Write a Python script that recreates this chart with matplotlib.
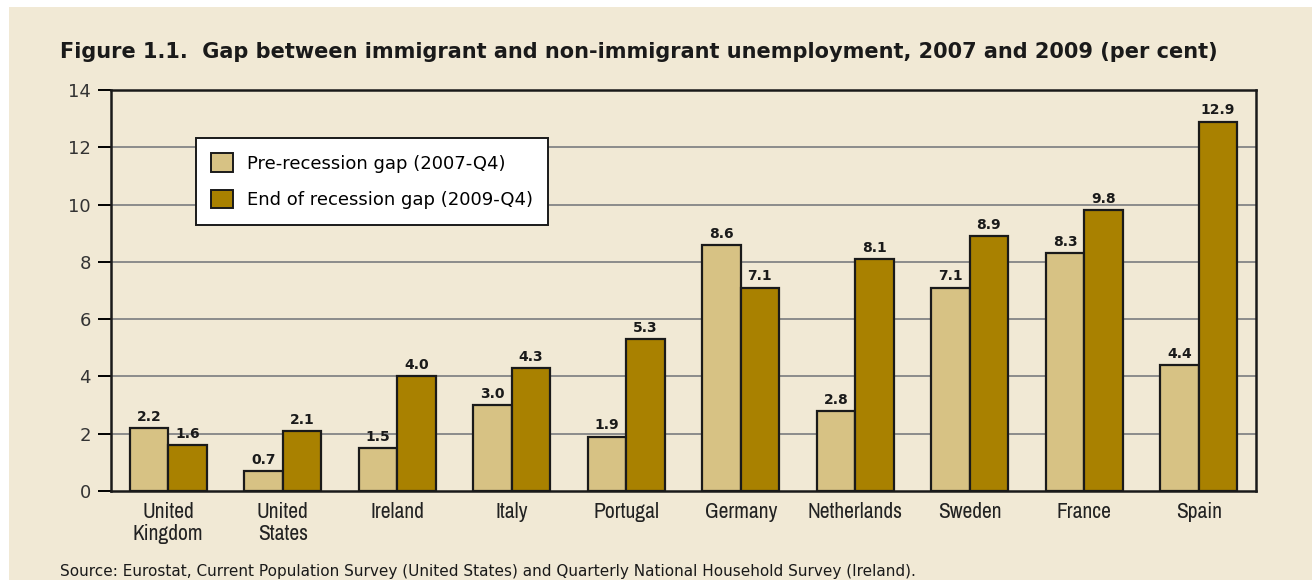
import matplotlib
matplotlib.use("Agg")
import matplotlib.pyplot as plt
from matplotlib.patches import Rectangle, Patch
import numpy as np

countries = ["United\nKingdom", "United\nStates", "Ireland", "Italy", "Portugal",
             "Germany", "Netherlands", "Sweden", "France", "Spain"]
gap_2007 = [2.2, 0.7, 1.5, 3.0, 1.9, 8.6, 2.8, 7.1, 8.3, 4.4]
gap_2009 = [1.6, 2.1, 4.0, 4.3, 5.3, 7.1, 8.1, 8.9, 9.8, 12.9]
series_labels = ["Pre-recession gap (2007-Q4)", "End of recession gap (2009-Q4)"]
y_ticks = [0, 2, 4, 6, 8, 10, 12, 14]

BG = "#f1e9d5"
C_PRE = "#d7c284"
C_END = "#a98100"
INK = "#1a1a1a"
NARROW = ["Archivo Narrow", "Liberation Sans Narrow", "DejaVu Sans"]
W, H = 1312, 580

fig = plt.figure(figsize=(W / 100, H / 100), dpi=100, facecolor="white")
fig.patches.append(Rectangle((9 / W, 0), 1 - 9 / W, 1 - 7 / H, transform=fig.transFigure,
                             facecolor=BG, edgecolor="none", zorder=-10))

ax = fig.add_axes([111 / W, 1 - 491 / H, (1256 - 111) / W, (491 - 90) / H])
ax.set_facecolor(BG)

x = np.arange(len(countries))
bw = 0.335
b1 = ax.bar(x - bw / 2, gap_2007, bw, color=C_PRE, edgecolor=INK, linewidth=1.6,
            zorder=3, label=series_labels[0])
b2 = ax.bar(x + bw / 2, gap_2009, bw, color=C_END, edgecolor=INK, linewidth=1.6,
            zorder=3, label=series_labels[1])

for bars, vals in ((b1, gap_2007), (b2, gap_2009)):
    for rect, v in zip(bars, vals):
        ax.annotate(f"{v:.1f}", (rect.get_x() + rect.get_width() / 2, v),
                    xytext=(0, 3), textcoords="offset points", ha="center", va="bottom",
                    fontsize=10, fontweight="bold", color=INK, zorder=4)

ax.set_xlim(-0.5, len(countries) - 0.5)
ax.set_ylim(0, 14)
ax.set_yticks(y_ticks)
ax.set_xticks(x)
ax.set_xticklabels(countries, fontsize=15.5, family=NARROW, fontweight="medium",
                   color="#222222", linespacing=1.1)
ax.tick_params(axis="x", length=0, pad=8)
ax.tick_params(axis="y", length=9.5, width=1.4, pad=5, labelsize=13, labelcolor="#333333")

for v in y_ticks[1:-1]:
    ax.axhline(v, color="#8c8c8c", linewidth=1.4, zorder=1)

for s in ax.spines.values():
    s.set_linewidth(1.8)
    s.set_color(INK)

leg = ax.legend(handles=[Patch(facecolor=C_PRE, edgecolor=INK, linewidth=1.4),
                         Patch(facecolor=C_END, edgecolor=INK, linewidth=1.4)],
                labels=series_labels, loc="upper left",
                bbox_to_anchor=((196 - 111) / (1256 - 111), 1 - (138 - 90) / (491 - 90)),
                fontsize=13, frameon=True, fancybox=False, framealpha=1,
                edgecolor=INK, handlelength=1.2, handleheight=1.2,
                handletextpad=0.75, labelspacing=0.95, borderpad=0.85, borderaxespad=0)
leg.get_frame().set_linewidth(1.4)
leg.set_zorder(5)

fig.text(60 / W, 1 - 52 / H,
         "Figure 1.1.  Gap between immigrant and non-immigrant unemployment, 2007 and 2009 (per cent)",
         fontsize=15, fontweight="bold", color=INK, va="center", ha="left")
fig.text(60 / W, 1 - 564 / H,
         "Source: Eurostat, Current Population Survey (United States) and Quarterly National Household Survey (Ireland).",
         fontsize=11, color=INK, va="top", ha="left")

fig.savefig("out.png", dpi=100, facecolor=fig.get_facecolor())
